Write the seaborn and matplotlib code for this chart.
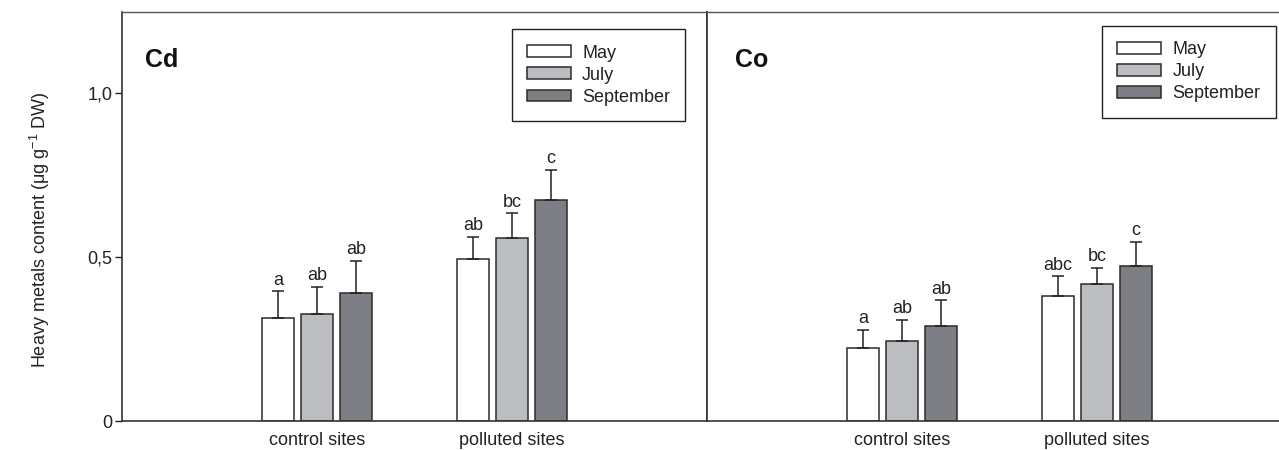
import matplotlib
matplotlib.use("Agg")
import matplotlib.pyplot as plt
import seaborn as sns
import pandas as pd

# ---- data ----
sites = ["control sites", "polluted sites"]
months = ["May", "July", "September"]

cd_may = [0.315, 0.495]
cd_july = [0.327, 0.558]
cd_sep = [0.389, 0.675]
cd_err_may = [0.080, 0.067]
cd_err_july = [0.082, 0.075]
cd_err_sep = [0.098, 0.091]
cd_letters_may = ["a", "ab"]
cd_letters_july = ["ab", "bc"]
cd_letters_sep = ["ab", "c"]

co_may = [0.222, 0.381]
co_july = [0.243, 0.417]
co_sep = [0.289, 0.473]
co_err_may = [0.055, 0.060]
co_err_july = [0.065, 0.050]
co_err_sep = [0.079, 0.073]
co_letters_may = ["a", "abc"]
co_letters_july = ["ab", "bc"]
co_letters_sep = ["ab", "c"]

y_ticks = [0, 0.5, 1.0]
y_ticklabels = ["0", "0,5", "1,0"]

colors = ["#ffffff", "#bcbdc1", "#7e7f84"]

sns.set_theme(style="white")
plt.rcParams["font.family"] = ["Liberation Sans", "DejaVu Sans"]
plt.rcParams["mathtext.fontset"] = "custom"
plt.rcParams["mathtext.rm"] = "Liberation Sans"

FS = 13

W, H = 1279, 450
fig = plt.figure(figsize=(W / 100, H / 100), dpi=100)
fig.patch.set_facecolor("white")

ax_l = 122 / W
ax_w = 585 / W
ax_b = (H - 421) / H
ax_h = (421 - 12) / H
ax1 = fig.add_axes([ax_l, ax_b, ax_w, ax_h])
ax2 = fig.add_axes([707 / W, ax_b, ax_w, ax_h])

panels = [
    (ax1, "Cd", 0.039, [cd_may, cd_july, cd_sep], [cd_err_may, cd_err_july, cd_err_sep],
     [cd_letters_may, cd_letters_july, cd_letters_sep], (0.666, 0.958)),
    (ax2, "Co", 0.048, [co_may, co_july, co_sep], [co_err_may, co_err_july, co_err_sep],
     [co_letters_may, co_letters_july, co_letters_sep], (0.675, 0.966)),
]

edge = "#2b2b2b"
for i, (ax, title, tx, vals, errs, letters, leg_pos) in enumerate(panels):
    rows = []
    for m, v in zip(months, vals):
        for s, val in zip(sites, v):
            rows.append({"site": s, "month": m, "value": val})
    df = pd.DataFrame(rows)
    sns.barplot(data=df, x="site", y="value", hue="month", order=sites,
                hue_order=months, palette=colors, width=0.6, gap=0.2,
                edgecolor=edge, linewidth=1.1, errorbar=None, ax=ax,
                saturation=1)
    for cont, err, labs in zip(ax.containers, errs, letters):
        for patch, e, lab in zip(cont.patches, err, labs):
            xc = patch.get_x() + patch.get_width() / 2
            h = patch.get_height()
            ax.errorbar(xc, h, yerr=[[0], [e]], fmt="none", ecolor="#222222",
                        elinewidth=1.1, capsize=4.2, capthick=1.1, zorder=1)
            ax.annotate(lab, (xc, h + e), xytext=(0, 2), textcoords="offset points",
                        ha="center", va="bottom", fontsize=FS, color="#222222")
    ax.set_xlim(-1, 2)
    ax.set_ylim(0, (421 - 12) / 328)
    ax.set_xlabel("")
    ax.set_ylabel("")
    ax.tick_params(axis="x", length=0, pad=8, labelsize=FS, colors="#222222")
    if i == 0:
        ax.set_yticks(y_ticks)
        ax.set_yticklabels(y_ticklabels)
        ax.tick_params(axis="y", left=True, length=5, width=1, direction="out",
                       labelsize=FS, colors="#222222", pad=2)
    else:
        ax.set_yticks([])
    for side, sp in ax.spines.items():
        sp.set_visible(True)
        sp.set_color("#333333")
        sp.set_linewidth(1.2)
    ax.spines["top"].set_color("#555555")
    ax.spines["top"].set_linewidth(1.0)
    ax.text(tx, 0.883, title, transform=ax.transAxes,
            fontsize=18, fontweight="bold", ha="left", va="center", color="#111111")
    sns.move_legend(ax, loc="upper left", bbox_to_anchor=leg_pos, title=None,
                    frameon=True, fancybox=False, edgecolor="#222222",
                    fontsize=FS, handlelength=2.45, handleheight=0.6,
                    labelspacing=0.28, borderpad=0.85, handletextpad=0.6,
                    borderaxespad=0, framealpha=1)
    leg = ax.get_legend()
    leg.get_frame().set_linewidth(1.0)
    for t in leg.get_texts():
        t.set_color("#222222")

fig.text(40 / W, 0.49, r"Heavy metals content ($\mathregular{\mu}$g g$^{-1}$ DW)",
         rotation=90, ha="center", va="center", fontsize=FS, color="#222222")

fig.savefig("out.png", dpi=100, facecolor="white")
